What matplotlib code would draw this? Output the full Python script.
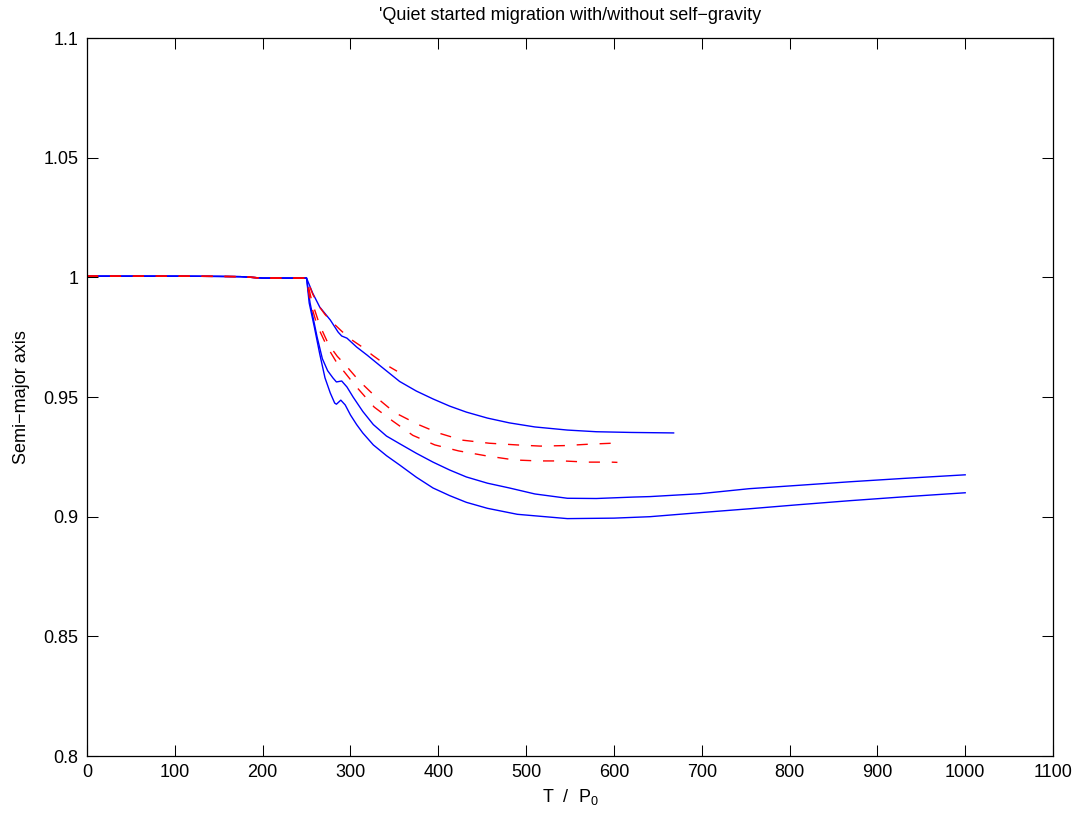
import matplotlib
matplotlib.use("Agg")
import matplotlib.pyplot as plt
from matplotlib.ticker import FuncFormatter

plt.rcParams["font.family"] = ["Liberation Sans", "DejaVu Sans"]
plt.rcParams["mathtext.default"] = "regular"

# Flat part before migration is released (shared by all runs)
t_flat = [0, 50, 100, 150, 175, 200, 250]
a_flat = [1.0005, 1.0005, 1.0005, 1.0004, 1.0003, 0.9997, 0.9997]

# Blue (solid) runs
t_blue1 = [257, 265, 277, 286, 290, 296, 307, 319, 334, 356, 375, 394, 413,
           432, 456, 481, 510, 547, 580, 620, 668]
a_blue1 = [0.9934, 0.9876, 0.9822, 0.9771, 0.9755, 0.9746, 0.9709, 0.9675,
           0.9630, 0.9565, 0.9525, 0.9492, 0.9462, 0.9437, 0.9412, 0.9392,
           0.9375, 0.9362, 0.9355, 0.9352, 0.935]

t_blue2 = [254, 262, 268, 274, 280, 284, 290, 296, 303, 314, 326, 341, 356,
           375, 394, 413, 432, 456, 481, 510, 547, 580, 622, 641, 698, 754,
           810, 869, 930, 1000]
a_blue2 = [0.9893, 0.9751, 0.966, 0.961, 0.958, 0.9563, 0.9567, 0.9542, 0.950,
           0.9440, 0.9385, 0.9337, 0.9305, 0.9265, 0.9228, 0.9195, 0.9166,
           0.914, 0.912, 0.9095, 0.9077, 0.9076, 0.9082, 0.9084, 0.9096, 0.9117,
           0.9131, 0.9146, 0.916, 0.9175]

t_blue3 = [253, 259, 265, 271, 277, 282, 284, 289, 294, 300, 307, 314, 326,
           341, 356, 375, 394, 413, 432, 456, 490, 547, 600, 641, 698, 754,
           810, 869, 930, 1000]
a_blue3 = [0.9893, 0.979, 0.968, 0.958, 0.9517, 0.9475, 0.947, 0.9487, 0.9467,
           0.9425, 0.9385, 0.935, 0.930, 0.9255, 0.9216, 0.9165, 0.912, 0.9088,
           0.906, 0.9035, 0.901, 0.8992, 0.8994, 0.900, 0.9017, 0.9033, 0.905,
           0.9067, 0.9083, 0.910]

# Red (dashed) runs
t_red1 = [257, 264, 271, 280, 290, 301, 313, 325, 336, 345, 353]
a_red1 = [0.993, 0.988, 0.9845, 0.981, 0.9775, 0.974, 0.971, 0.9675, 0.9646,
          0.9625, 0.9608]

t_red2 = [256, 265, 275, 285, 294, 310, 329, 350, 376, 400, 427, 458, 489, 516,
          543, 572, 598, 604]
a_red2 = [0.990, 0.980, 0.972, 0.967, 0.9635, 0.9567, 0.950, 0.9436, 0.9387,
          0.935, 0.932, 0.9307, 0.930, 0.9295, 0.9297, 0.9303, 0.9307, 0.931]

t_red3 = [254, 262, 273, 284, 305, 327, 348, 371, 396, 423, 455, 487, 514, 542,
          570, 597, 604]
a_red3 = [0.990, 0.980, 0.9713, 0.9646, 0.955, 0.9458, 0.940, 0.934, 0.930,
          0.9275, 0.9254, 0.9237, 0.9233, 0.9233, 0.9228, 0.9228, 0.9227]

blue_runs = [(t_blue1, a_blue1), (t_blue2, a_blue2), (t_blue3, a_blue3)]
red_runs = [(t_red1, a_red1), (t_red2, a_red2), (t_red3, a_red3)]


def main():
    fig = plt.figure(figsize=(10.85, 8.25), dpi=100)
    ax = fig.add_axes([0.0802, 0.0836, 0.8903, 0.8703])

    # solid curves first, dashed ones on top
    for t, a in blue_runs:
        ax.plot(t_flat + t, a_flat + a, color="#0000ff", lw=1.0)
    for t, a in red_runs:
        ax.plot(t_flat + t, a_flat + a, color="#ff0000", lw=1.0,
                linestyle=(0, (8, 8.5)))

    ax.set_xlim(0, 1100)
    ax.set_ylim(0.8, 1.1)
    ax.set_xticks(range(0, 1101, 100))
    ax.set_yticks([0.8, 0.85, 0.9, 0.95, 1.0, 1.05, 1.1])
    ax.yaxis.set_major_formatter(FuncFormatter(lambda v, p: f"{v:g}"))
    ax.tick_params(direction="in", length=8, width=0.75, top=True, right=True,
                   labelsize=13, pad=6)
    for sp in ax.spines.values():
        sp.set_linewidth(0.9)

    ax.set_xlabel("T  /  P$_0$", fontsize=13, labelpad=4)
    ax.set_ylabel("Semi\u2212major axis", fontsize=13, labelpad=10)
    ax.set_title("'Quiet started migration with/without self\u2212gravity",
                 fontsize=13, pad=13)

    fig.savefig("out.png", dpi=100)
    plt.close(fig)


if __name__ == "__main__":
    main()
